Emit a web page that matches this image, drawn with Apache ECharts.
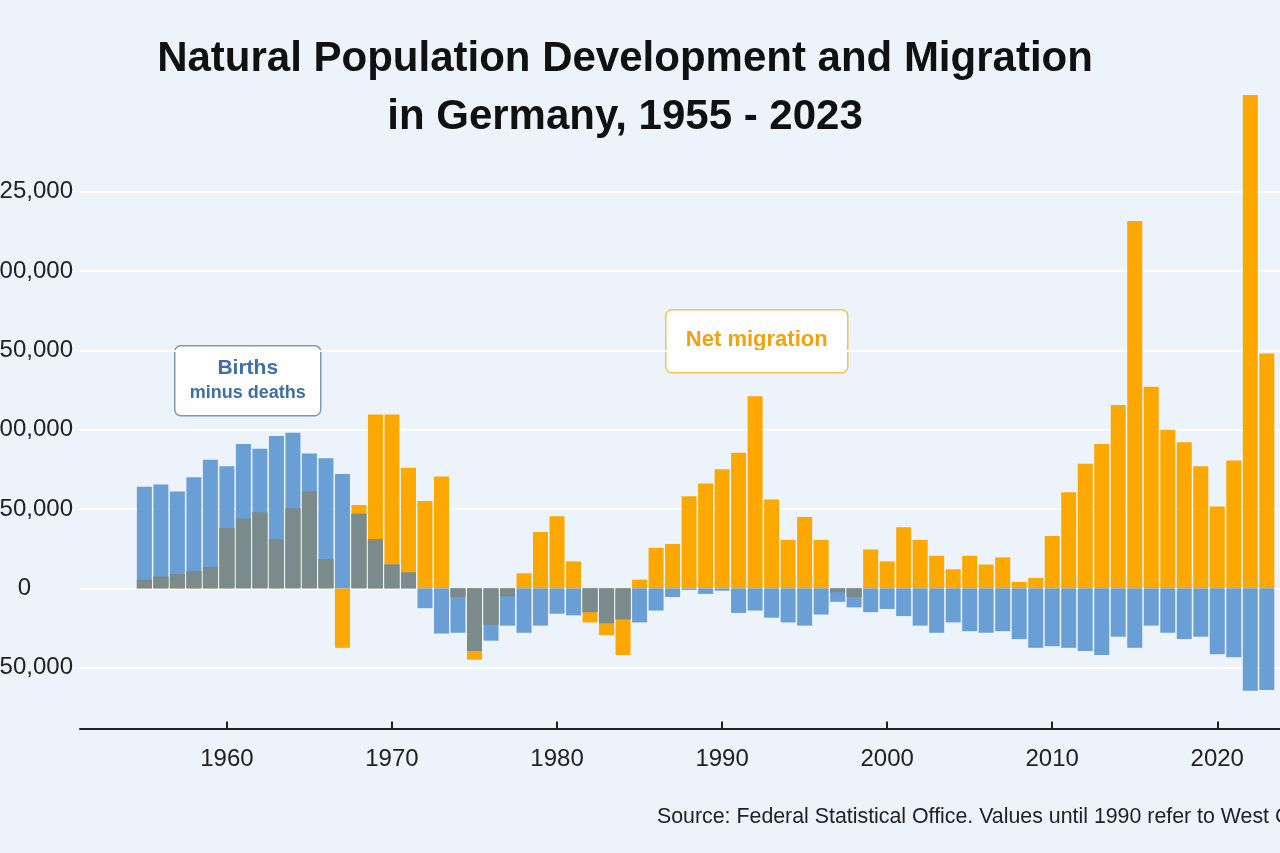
<!DOCTYPE html>
<html style="height: 100%">
<head>
    <meta charset="utf-8">
    <script src="https://cdn.jsdelivr.net/npm/echarts@6/dist/echarts.min.js"></script>
</head>
<body style="height: 100%; margin: 0; background: #edf3fa">
<div id="container" style="width: 1280px; height: 853px"></div>
<script type="text/javascript">
// years shown on the x axis
var years = [];
for (var y = 1955; y <= 2023; y++) years.push(y);

// births minus deaths (blue)
var naturalChange = [
    64000, 65500, 61000, 70000, 81000, 77000, 91000, 88000, 96000, 98000,   // 1955-1964
    85000, 82000, 72000, 47000, 31000, 15000, 10000, -12500, -28500, -28000, // 1965-1974
    -39500, -33000, -23500, -28000, -23500, -16000, -17000, -15000, -22000, -19500, // 1975-1984
    -21500, -14000, -5500, -1000, -3500, -1500, -15500, -14000, -18500, -21500, // 1985-1994
    -23500, -16500, -8500, -12000, -15000, -13000, -17500, -23500, -28000, -21500, // 1995-2004
    -27000, -28000, -27000, -32000, -37500, -36500, -37500, -39500, -42000, -30500, // 2005-2014
    -37500, -23500, -28000, -32000, -30500, -41500, -43500, -64500, -64000  // 2015-2023
];

// net migration (orange)
var netMigration = [
    5500, 7500, 9000, 11000, 13500, 38000, 44000, 48000, 31000, 50500,       // 1955-1964
    61000, 18500, -37500, 52500, 109500, 109500, 76000, 55000, 70500, -5500, // 1965-1974
    -45000, -23000, -5000, 9500, 35500, 45500, 17000, -21500, -29500, -42000, // 1975-1984
    5500, 25500, 28000, 58000, 66000, 75000, 85500, 121000, 56000, 30500,   // 1985-1994
    45000, 30500, -2500, -5500, 24500, 17000, 38500, 30500, 20500, 12000,   // 1995-2004
    20500, 15000, 19500, 4000, 6500, 33000, 60500, 78500, 91000, 115500,    // 2005-2014
    231500, 127000, 100000, 92000, 77000, 51500, 80500, 311000, 148000      // 2015-2023
];

// axis ticks
var xTickValues = [1960, 1970, 1980, 1990, 2000, 2010, 2020];
var yTickValues = [-50000, 0, 50000, 100000, 150000, 200000, 250000];
var yTickLabels = ['50,000', '0', '50,000', '00,000', '50,000', '00,000', '25,000'];

var blueData = [], orangeData = [], grayData = [];
for (var i = 0; i < years.length; i++) {
    var a = naturalChange[i], b = netMigration[i];
    blueData.push([years[i], a]);
    orangeData.push([years[i], b]);
    // where both go the same way the bars overlap and show grey
    var ov = (a > 0 && b > 0) ? Math.min(a, b) : (a < 0 && b < 0 ? Math.max(a, b) : null);
    grayData.push([years[i], ov]);
}

var dom = document.getElementById("container");
var myChart = echarts.init(dom, null, {renderer: 'canvas'});

var option = {
    backgroundColor: '#edf3fa',
    animation: false,
    title: {
        text: 'Natural Population Development and Migration\nin Germany, 1955 - 2023',
        left: 620,
        top: 25,
        textAlign: 'center',
        textStyle: {
            fontFamily: 'Liberation Sans',
            fontSize: 42,
            fontWeight: 'bold',
            color: '#111',
            lineHeight: 58
        }
    },
    grid: {
        left: 80,
        right: 0,
        top: 33,
        bottom: 106,
        outerBoundsMode: 'none'
    },
    xAxis: {
        type: 'value',
        min: 1951.1,
        max: 2023.8,
        offset: -18.5,
        axisLine: {onZero: false, lineStyle: {color: '#222', width: 2}},
        axisTick: {
            inside: true,
            length: 7,
            customValues: xTickValues,
            lineStyle: {color: '#222', width: 2}
        },
        axisLabel: {
            customValues: xTickValues,
            margin: 19,
            fontFamily: 'Liberation Sans',
            fontSize: 24,
            color: '#222',
            formatter: function (v) { return String(v); }
        },
        splitLine: {show: false}
    },
    yAxis: {
        type: 'value',
        min: -100000,
        max: 350000,
        interval: 50000,
        axisLine: {show: false},
        axisTick: {show: false},
        axisLabel: {
            margin: 7,
            fontFamily: 'Liberation Sans',
            fontSize: 24,
            color: '#222',
            formatter: function (v) {
                var k = yTickValues.indexOf(v);
                if (k < 0) return '';
                if (v === 0) return '{z|0}';
                return yTickLabels[k];
            },
            rich: {
                z: {fontFamily: 'Liberation Sans', fontSize: 24, color: '#222', padding: [0, 42, 0, 0]}
            }
        },
        splitLine: {
            showMinLine: false,
            showMaxLine: false,
            lineStyle: {
                color: ['#ffffff', '#ffffff', '#ffffff', '#ffffff', '#ffffff', '#ffffff', '#ffffff', 'rgba(0,0,0,0)'],
                width: 2
            }
        }
    },
    series: [
        {
            name: 'Net migration',
            type: 'bar',
            clip: false,
            barWidth: 15,
            barGap: '-100%',
            itemStyle: {color: '#fca800'},
            data: orangeData
        },
        {
            name: 'Births minus deaths',
            type: 'bar',
            clip: false,
            barWidth: 15,
            barGap: '-100%',
            itemStyle: {color: '#6a9fd6'},
            data: blueData
        },
        {
            name: 'Overlap',
            type: 'bar',
            clip: false,
            barWidth: 15,
            barGap: '-100%',
            itemStyle: {color: '#7b8b8b'},
            data: grayData
        }
    ],
    graphic: [
        {
            type: 'group',
            left: 174,
            top: 345,
            children: [
                {
                    type: 'rect',
                    shape: {x: 0, y: 0, width: 146, height: 70, r: 6},
                    style: {fill: 'rgba(255,255,255,0.9)', stroke: '#7f98b4', lineWidth: 1.5}
                },
                {
                    type: 'text',
                    x: 73, y: 12,
                    style: {text: 'Births', fontFamily: 'Liberation Sans', fontSize: 21, fontWeight: 'bold', fill: '#3f6fa6', align: 'center'}
                },
                {
                    type: 'text',
                    x: 73, y: 38,
                    style: {text: 'minus deaths', fontFamily: 'Liberation Sans', fontSize: 18, fontWeight: 'bold', fill: '#3f6fa6', align: 'center'}
                }
            ]
        },
        {
            type: 'group',
            left: 665,
            top: 309,
            children: [
                {
                    type: 'rect',
                    shape: {x: 0, y: 0, width: 182, height: 63, r: 6},
                    style: {fill: 'rgba(255,255,255,0.9)', stroke: '#f3c25a', lineWidth: 1.5}
                },
                {
                    type: 'text',
                    x: 91, y: 19,
                    style: {text: 'Net migration', fontFamily: 'Liberation Sans', fontSize: 22, fontWeight: 'bold', fill: '#f2a210', align: 'center'}
                }
            ]
        },
        {
            type: 'text',
            x: 657,
            y: 806,
            scaleX: 0.97,
            style: {
                text: 'Source: Federal Statistical Office. Values until 1990 refer to West Germany.',
                fontFamily: 'Liberation Sans',
                fontSize: 22,
                fill: '#222'
            }
        }
    ]
};

if (option && typeof option === "object") {
    myChart.setOption(option, true);
}
</script>
</body>
</html>
